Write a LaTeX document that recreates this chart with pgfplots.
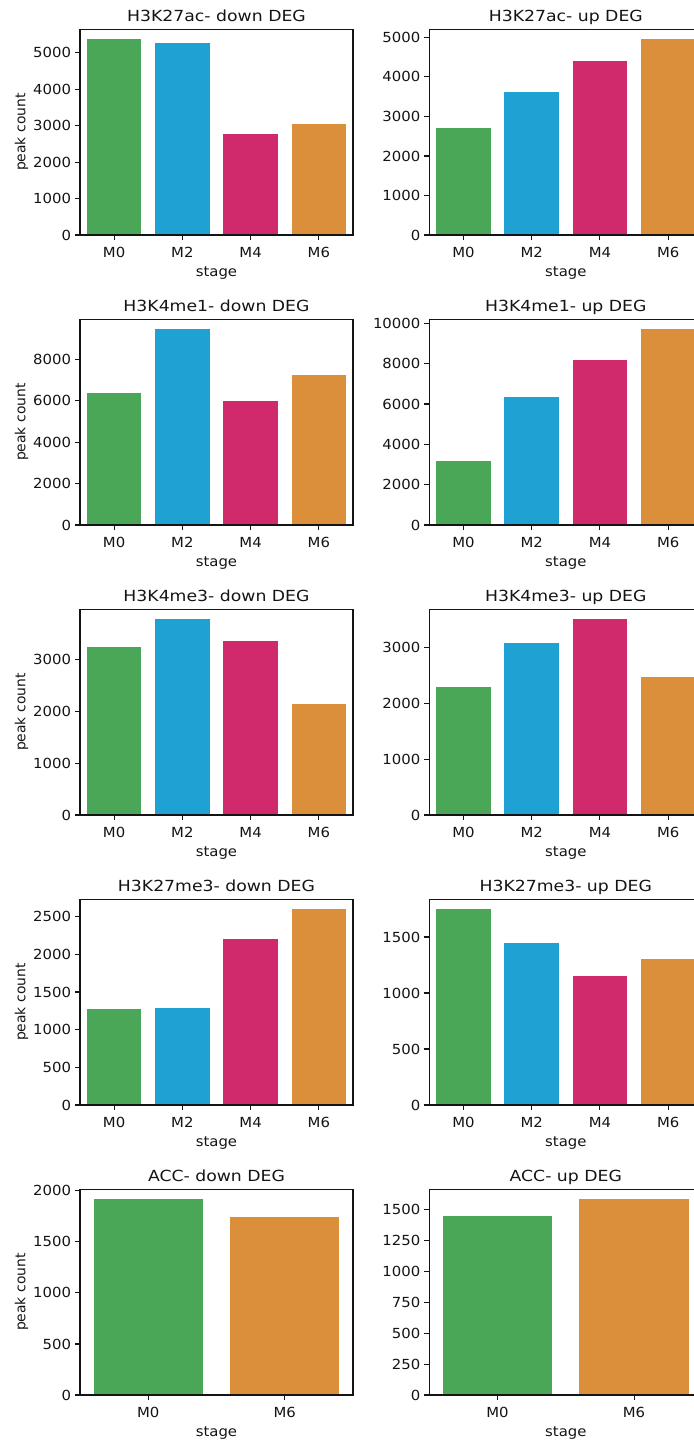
\documentclass[border=0pt]{standalone}
\usepackage{fontspec}
\setmainfont{DejaVu Sans}
\usepackage{pgfplots}
\pgfplotsset{compat=1.18}
\definecolor{cg}{RGB}{74,167,87}
\definecolor{cb}{RGB}{31,161,211}
\definecolor{cp}{RGB}{209,42,108}
\definecolor{co}{RGB}{219,143,58}
\definecolor{axc}{RGB}{20,20,20}
\pgfplotsset{
  every axis title shift=0pt,
  panel/.style={
    width=196.56pt, height=148.1pt, scale only axis,
    xmin=-0.5, xmax=3.5, ymin=0,
    xtick={0,1,2,3}, xticklabels={M0,M2,M4,M6},
    xtick pos=bottom, ytick pos=left,
    tick align=outside, major tick length=3.5pt,
    tick style={line width=0.8pt, color=axc},
    axis line style={line width=0.8pt, color=axc},
    axis on top=true,
    scaled y ticks=false,
    /pgf/number format/1000 sep={},
    /pgf/number format/assume math mode=true,
    tick label style={font=\fontsize{10}{12}\selectfont, text=axc, xscale=1.07},
    xticklabel style={anchor=north, inner sep=0pt, yshift=-5.4pt},
    yticklabel style={anchor=east, inner sep=0pt, xshift=-2.6pt},
    title style={at={(axis description cs:0.5,1)}, anchor=base, inner sep=0pt, yshift=5.8pt,
      font=\fontsize{11}{13}\selectfont, text=axc, xscale=1.13},
    xlabel={stage},
    xlabel style={at={(axis description cs:0.5,0)}, anchor=base, inner sep=0pt, yshift=-29.8pt,
      font=\fontsize{10}{12}\selectfont, text=axc, xscale=1.07},
    ylabel style={at={(axis description cs:-0.2142,0.5)}, anchor=center, inner sep=0pt,
      font=\fontsize{10}{12}\selectfont, text=axc},
  },
  bars/.style={ybar, bar width=0.8, bar shift=0pt, draw=none, fill=#1},
}
\newcommand\fourbars[4]{%
  \addplot[bars=cg] coordinates {(0,#1)};
  \addplot[bars=cb] coordinates {(1,#2)};
  \addplot[bars=cp] coordinates {(2,#3)};
  \addplot[bars=co] coordinates {(3,#4)};
}
\begin{document}
\begin{tikzpicture}
% Row 1
\begin{axis}[panel, at={(57.6pt,-169.2pt)}, anchor=south west,
  title={H3K27ac- down DEG}, ylabel={peak count},
  ymax=5645, ytick={0,1000,2000,3000,4000,5000}]
\fourbars{5376}{5266}{2770}{3045}
\end{axis}
\begin{axis}[panel, at={(309.1pt,-169.2pt)}, anchor=south west,
  title={H3K27ac- up DEG},
  ymax=5205, ytick={0,1000,2000,3000,4000,5000}]
\fourbars{2706}{3616}{4400}{4957}
\end{axis}
% Row 2
\begin{axis}[panel, at={(57.6pt,-378.0pt)}, anchor=south west,
  title={H3K4me1- down DEG}, ylabel={peak count},
  ymax=9938, ytick={0,2000,4000,6000,8000}]
\fourbars{6358}{9465}{5988}{7244}
\end{axis}
\begin{axis}[panel, at={(309.1pt,-378.0pt)}, anchor=south west,
  title={H3K4me1- up DEG},
  ymax=10204, ytick={0,2000,4000,6000,8000,10000}]
\fourbars{3173}{6346}{8181}{9718}
\end{axis}
% Row 3
\begin{axis}[panel, at={(57.6pt,-586.8pt)}, anchor=south west,
  title={H3K4me3- down DEG}, ylabel={peak count},
  ymax=3966, ytick={0,1000,2000,3000}]
\fourbars{3238}{3777}{3353}{2139}
\end{axis}
\begin{axis}[panel, at={(309.1pt,-586.8pt)}, anchor=south west,
  title={H3K4me3- up DEG},
  ymax=3682, ytick={0,1000,2000,3000}]
\fourbars{2290}{3077}{3507}{2469}
\end{axis}
% Row 4
\begin{axis}[panel, at={(57.6pt,-795.6pt)}, anchor=south west,
  title={H3K27me3- down DEG}, ylabel={peak count},
  ymax=2731, ytick={0,500,1000,1500,2000,2500}]
\fourbars{1281}{1294}{2205}{2601}
\end{axis}
\begin{axis}[panel, at={(309.1pt,-795.6pt)}, anchor=south west,
  title={H3K27me3- up DEG},
  ymax=1836, ytick={0,500,1000,1500}]
\fourbars{1749}{1447}{1154}{1305}
\end{axis}
% Row 5
\begin{axis}[panel, at={(57.6pt,-1004.4pt)}, anchor=south west,
  title={ACC- down DEG}, ylabel={peak count},
  xmin=-0.5, xmax=1.5, xtick={0,1}, xticklabels={M0,M6},
  ymax=2014, ytick={0,500,1000,1500,2000}]
\addplot[bars=cg] coordinates {(0,1918)};
\addplot[bars=co] coordinates {(1,1743)};
\end{axis}
\begin{axis}[panel, at={(309.1pt,-1004.4pt)}, anchor=south west,
  title={ACC- up DEG},
  xmin=-0.5, xmax=1.5, xtick={0,1}, xticklabels={M0,M6},
  ymax=1665, ytick={0,250,500,750,1000,1250,1500}]
\addplot[bars=cg] coordinates {(0,1449)};
\addplot[bars=co] coordinates {(1,1586)};
\end{axis}
\pgfresetboundingbox
\path (0pt,0pt) rectangle (498.96pt,-1037.52pt);
\end{tikzpicture}
\end{document}
